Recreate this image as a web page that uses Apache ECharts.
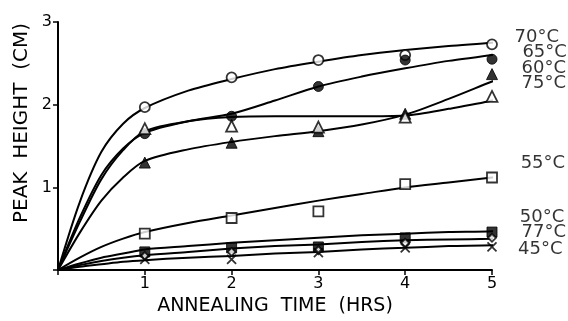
<!DOCTYPE html>
<html><head><meta charset="utf-8">
<script src="https://cdn.jsdelivr.net/npm/echarts@6/dist/echarts.min.js"></script>
<style>html,body{margin:0;padding:0;background:#fff}#c{width:568px;height:321px}</style>
</head><body><div id="c"></div>
<script>
// Measured points (hours -> peak height, cm)
const hours = [1, 2, 3, 4, 5];
const pts70 = [1.97, 2.33, 2.54, 2.60, 2.73];
const pts65 = [1.65, 1.86, 2.22, 2.54, 2.55];
const pts60 = [1.30, 1.54, 1.68, 1.89, 2.37];
const pts75 = [1.71, 1.74, 1.73, 1.85, 2.10];
const pts55 = [0.44, 0.63, 0.71, 1.04, 1.12];
const pts50 = [0.22, 0.27, 0.28, 0.39, 0.46];
const pts77 = [0.17, 0.22, 0.24, 0.33, 0.39];
const pts45 = [0.13, 0.13, 0.21, 0.27, 0.28];

// Hand-drawn fitted curves, [hours, cm]
const curve70 = [[0,0],[0.25,0.82],[0.5,1.43],[0.75,1.77],[1,1.96],[1.5,2.17],[2,2.31],[2.5,2.43],[3,2.52],[3.5,2.60],[4,2.66],[4.5,2.71],[5,2.75],[5.25,2.78]];
const curve65 = [[0,0],[0.25,0.63],[0.5,1.15],[0.75,1.47],[1,1.66],[1.5,1.80],[2,1.89],[2.5,2.05],[3,2.22],[3.5,2.34],[4,2.44],[4.5,2.53],[5,2.60],[5.15,2.64]];
const curve75 = [[0,0],[0.25,0.58],[0.5,1.10],[0.75,1.45],[1,1.68],[1.5,1.80],[2,1.85],[2.5,1.86],[3,1.86],[3.5,1.86],[4,1.87],[4.5,1.95],[5,2.05],[5.2,2.13]];
const curve60 = [[0,0],[0.25,0.45],[0.5,0.84],[0.75,1.12],[1,1.32],[1.5,1.46],[2,1.55],[2.5,1.62],[3,1.68],[3.5,1.76],[4,1.88],[4.5,2.07],[5,2.28],[5.25,2.38]];
const curve55 = [[0,0],[0.25,0.15],[0.5,0.28],[0.75,0.38],[1,0.46],[1.5,0.57],[2,0.66],[2.5,0.75],[3,0.84],[3.5,0.92],[4,1.00],[4.5,1.06],[5,1.12],[5.3,1.15]];
const curve50 = [[0,0],[0.25,0.08],[0.5,0.15],[0.75,0.20],[1,0.25],[1.5,0.29],[2,0.33],[2.5,0.36],[3,0.39],[3.5,0.42],[4,0.44],[4.5,0.46],[5,0.47],[5.25,0.50]];
const curve77 = [[0,0],[0.25,0.06],[0.5,0.11],[0.75,0.15],[1,0.18],[1.5,0.22],[2,0.26],[2.5,0.29],[3,0.31],[3.5,0.34],[4,0.36],[4.5,0.37],[5,0.38],[5.2,0.39]];
const curve45 = [[0,0],[0.25,0.04],[0.5,0.07],[0.75,0.10],[1,0.12],[1.5,0.15],[2,0.17],[2.5,0.20],[3,0.22],[3.5,0.25],[4,0.27],[4.5,0.29],[5,0.30],[5.35,0.32]];

// End labels
const labelText = ['70°C','65°C','60°C','75°C','55°C','50°C','77°C','45°C'];
const labelX = [5.26, 5.35, 5.34, 5.34, 5.33, 5.32, 5.34, 5.30];
const labelY = [2.82, 2.63, 2.44, 2.26, 1.29, 0.64, 0.46, 0.25];

const FONT = 'DejaVu Sans';
const chart = echarts.init(document.getElementById('c'), null, {renderer: 'canvas'});

function pair(ys) { return hours.map((h, i) => [h, ys[i]]); }
function curve(data) {
  return {type: 'line', data: data, smooth: 0.3, showSymbol: false,
    symbol: 'none', clip: false, silent: true, z: 2,
    lineStyle: {color: '#000', width: 2}};
}
function marks(ys, symbol, filled, size) {
  return {type: 'scatter', data: pair(ys), symbol: symbol, symbolSize: size, clip: false, z: 3,
    itemStyle: filled ? {color: '#000', borderColor: '#000', borderWidth: 1}
                      : {color: '#fff', borderColor: '#000', borderWidth: 1.8}};
}
const crossPath = 'path://M0,0L10,10M10,0L0,10';

chart.setOption({
  animation: false,
  backgroundColor: '#fff',
  grid: {left: 58, right: 76, top: 22, bottom: 40},
  xAxis: {
    type: 'value', min: 0, max: 5, interval: 1,
    axisLine: {lineStyle: {color: '#000', width: 2}},
    axisTick: {show: true, length: 5, inside: false, lineStyle: {color: '#000', width: 1.5}},
    splitLine: {show: false},
    axisLabel: {color: '#000', fontFamily: FONT, fontSize: 16, margin: 6,
      formatter: v => (v === 0 ? '' : String(v))},
    name: 'ANNEALING  TIME  (HRS)', nameLocation: 'middle', nameGap: 25,
    nameTextStyle: {color: '#000', fontFamily: FONT, fontSize: 19}
  },
  yAxis: {
    type: 'value', min: 0, max: 3, interval: 1,
    axisLine: {show: true, lineStyle: {color: '#000', width: 2}},
    axisTick: {show: true, length: 5, lineStyle: {color: '#000', width: 1.5}},
    splitLine: {show: false},
    axisLabel: {color: '#000', fontFamily: FONT, fontSize: 16, margin: 6,
      formatter: v => (v === 0 ? '' : String(v))}
  },
  graphic: [{
    type: 'text', x: 22, y: 123, rotation: Math.PI / 2,
    style: {text: 'PEAK  HEIGHT  (CM)', fill: '#000', font: '20px "DejaVu Sans"',
      textAlign: 'center', textVerticalAlign: 'middle'}
  }],
  series: [
    curve(curve70), curve(curve65), curve(curve75), curve(curve60),
    curve(curve55), curve(curve50), curve(curve77), curve(curve45),
    marks(pts70, 'circle', false, 10),
    marks(pts65, 'circle', true, 10),
    marks(pts60, 'triangle', true, 11),
    marks(pts75, 'triangle', false, 11),
    marks(pts55, 'rect', false, 10),
    marks(pts50, 'rect', true, 10),
    marks(pts77, 'diamond', false, 8),
    {type: 'scatter', data: pair(pts45), symbol: crossPath, symbolSize: 9, clip: false, z: 3,
      itemStyle: {color: 'rgba(0,0,0,0)', borderColor: '#000', borderWidth: 1.8}},
    {type: 'scatter', clip: false, symbolSize: 0, silent: true, z: 4,
      data: labelText.map((t, i) => ({value: [labelX[i], labelY[i]], name: t})),
      label: {show: true, position: 'right', distance: 0, formatter: p => p.name,
        color: '#000', fontFamily: FONT, fontSize: 18}}
  ]
});
</script></body></html>
